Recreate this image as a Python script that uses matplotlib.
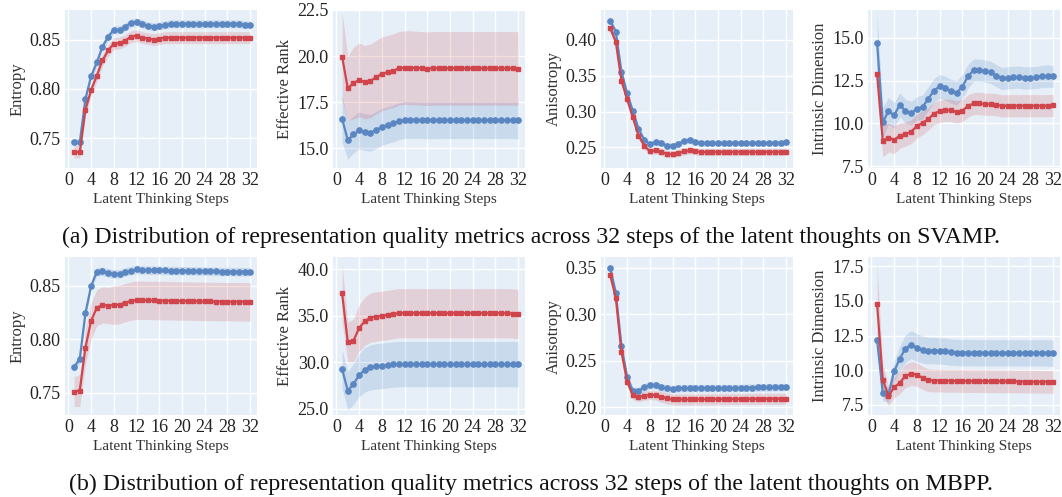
import numpy as np
import matplotlib
matplotlib.use("Agg")
import matplotlib.pyplot as plt

plt.rcParams['font.family'] = ['Liberation Serif', 'DejaVu Serif']

steps = list(range(1, 33))

# ---- (a) SVAMP ----
svamp_entropy_blue = [0.746, 0.746, 0.790, 0.813, 0.827, 0.843, 0.853, 0.860, 0.860, 0.863, 0.867, 0.868,
                      0.866, 0.864, 0.863, 0.864, 0.865, 0.866, 0.866, 0.866, 0.866, 0.866, 0.866, 0.866,
                      0.866, 0.866, 0.866, 0.866, 0.866, 0.866, 0.865, 0.865]
svamp_entropy_blue_sd = [0.004, 0.004, 0.004, 0.004, 0.004, 0.004, 0.004, 0.004, 0.004, 0.004, 0.004, 0.004,
                         0.004, 0.004, 0.004, 0.004, 0.004, 0.004, 0.004, 0.004, 0.004, 0.004, 0.004, 0.004,
                         0.004, 0.004, 0.004, 0.004, 0.004, 0.004, 0.004, 0.004]
svamp_entropy_red = [0.736, 0.736, 0.779, 0.799, 0.8135, 0.829, 0.839, 0.846, 0.8466, 0.849, 0.853, 0.854,
                     0.852, 0.851, 0.850, 0.851, 0.852, 0.852, 0.852, 0.852, 0.852, 0.852, 0.852, 0.852,
                     0.852, 0.852, 0.852, 0.852, 0.852, 0.852, 0.852, 0.852]
svamp_entropy_red_sd = [0.006, 0.006, 0.006, 0.006, 0.006, 0.006, 0.006, 0.006, 0.006, 0.006, 0.006, 0.006,
                        0.006, 0.006, 0.006, 0.006, 0.006, 0.006, 0.006, 0.006, 0.006, 0.006, 0.006, 0.006,
                        0.006, 0.006, 0.006, 0.006, 0.006, 0.006, 0.006, 0.006]

svamp_rank_blue = [16.60, 15.43, 15.74, 15.96, 15.87, 15.83, 15.98, 16.16, 16.25, 16.34, 16.46, 16.53,
                   16.53, 16.53, 16.52, 16.51, 16.52, 16.52, 16.52, 16.52, 16.52, 16.52, 16.52, 16.52,
                   16.52, 16.52, 16.52, 16.52, 16.52, 16.52, 16.52, 16.51]
svamp_rank_blue_sd = [1.25, 1.05, 1.00, 1.00, 1.00, 1.00, 1.00, 1.00, 1.00, 1.00, 1.00, 1.00,
                      1.00, 1.00, 1.00, 1.00, 1.00, 1.00, 1.00, 1.00, 1.00, 1.00, 1.00, 1.00,
                      1.00, 1.00, 1.00, 1.00, 1.00, 1.00, 1.00, 1.00]
svamp_rank_red = [19.97, 18.25, 18.53, 18.70, 18.58, 18.65, 18.85, 19.03, 19.12, 19.20, 19.33, 19.37,
                  19.37, 19.35, 19.33, 19.31, 19.33, 19.33, 19.33, 19.33, 19.33, 19.33, 19.33, 19.33,
                  19.33, 19.33, 19.33, 19.33, 19.33, 19.33, 19.33, 19.32]
svamp_rank_red_sd = [2.40, 1.75, 1.95, 2.00, 2.00, 2.00, 2.00, 2.00, 2.00, 2.00, 2.00, 2.00,
                     2.00, 2.00, 2.00, 2.00, 2.00, 2.00, 2.00, 2.00, 2.00, 2.00, 2.00, 2.00,
                     2.00, 2.00, 2.00, 2.00, 2.00, 2.00, 2.00, 2.00]

svamp_aniso_blue = [0.427, 0.4116, 0.3556, 0.3255, 0.3009, 0.276, 0.2606, 0.2546, 0.2574, 0.256, 0.2523, 0.2523,
                    0.2551, 0.2588, 0.2602, 0.2579, 0.256, 0.256, 0.256, 0.256, 0.256, 0.256, 0.256, 0.256,
                    0.256, 0.256, 0.256, 0.256, 0.256, 0.256, 0.256, 0.257]
svamp_aniso_blue_sd = [0.004, 0.004, 0.004, 0.004, 0.004, 0.004, 0.004, 0.004, 0.004, 0.004, 0.004, 0.004,
                       0.004, 0.004, 0.004, 0.004, 0.004, 0.004, 0.004, 0.004, 0.004, 0.004, 0.004, 0.004,
                       0.004, 0.004, 0.004, 0.004, 0.004, 0.004, 0.004, 0.004]
svamp_aniso_red = [0.4163, 0.3977, 0.343, 0.317, 0.292, 0.2665, 0.2526, 0.2444, 0.2458, 0.244, 0.2407, 0.2402,
                   0.242, 0.2444, 0.2458, 0.2444, 0.2435, 0.2435, 0.2435, 0.2435, 0.2435, 0.2435, 0.2435, 0.2435,
                   0.2435, 0.2435, 0.2435, 0.2435, 0.2435, 0.2435, 0.2435, 0.244]
svamp_aniso_red_sd = [0.005, 0.005, 0.005, 0.005, 0.005, 0.005, 0.005, 0.005, 0.005, 0.005, 0.005, 0.005,
                      0.005, 0.005, 0.005, 0.005, 0.005, 0.005, 0.005, 0.005, 0.005, 0.005, 0.005, 0.005,
                      0.005, 0.005, 0.005, 0.005, 0.005, 0.005, 0.005, 0.005]

svamp_dim_blue = [14.71, 10.06, 10.73, 10.48, 11.10, 10.71, 10.60, 10.87, 10.96, 11.44, 11.92, 12.17,
                  12.06, 11.88, 11.79, 12.15, 12.75, 13.12, 13.12, 13.06, 12.98, 12.79, 12.63, 12.67,
                  12.69, 12.71, 12.65, 12.67, 12.69, 12.75, 12.77, 12.75]
svamp_dim_blue_sd = [1.70, 0.90, 0.80, 0.75, 0.70, 0.70, 0.70, 0.70, 0.70, 0.70, 0.70, 0.70,
                     0.70, 0.70, 0.70, 0.70, 0.70, 0.65, 0.65, 0.65, 0.65, 0.65, 0.65, 0.65,
                     0.65, 0.65, 0.65, 0.65, 0.65, 0.65, 0.65, 0.65]
svamp_dim_red = [12.88, 9.00, 9.17, 9.04, 9.29, 9.38, 9.52, 9.85, 10.04, 10.25, 10.58, 10.71,
                 10.77, 10.77, 10.67, 10.75, 11.02, 11.17, 11.17, 11.13, 11.12, 11.10, 11.02, 11.04,
                 11.04, 11.04, 11.04, 11.04, 11.04, 11.04, 11.04, 11.06]
svamp_dim_red_sd = [1.20, 0.95, 0.85, 0.80, 0.75, 0.70, 0.70, 0.70, 0.70, 0.65, 0.65, 0.65,
                    0.65, 0.65, 0.65, 0.65, 0.65, 0.65, 0.65, 0.65, 0.65, 0.65, 0.65, 0.65,
                    0.65, 0.65, 0.65, 0.65, 0.65, 0.65, 0.65, 0.65]

# ---- (b) MBPP ----
mbpp_entropy_blue = [0.7737, 0.7816, 0.8245, 0.850, 0.8631, 0.8637, 0.8621, 0.8612, 0.8612, 0.8631, 0.8643, 0.8653,
                     0.8648, 0.8646, 0.8646, 0.8645, 0.8644, 0.8643, 0.8642, 0.8641, 0.8640, 0.8639, 0.8638, 0.8637,
                     0.8636, 0.8635, 0.8634, 0.8634, 0.8633, 0.8632, 0.8632, 0.8631]
mbpp_entropy_blue_sd = [0.004, 0.004, 0.004, 0.004, 0.004, 0.004, 0.004, 0.004, 0.004, 0.004, 0.004, 0.004,
                        0.004, 0.004, 0.004, 0.004, 0.004, 0.004, 0.004, 0.004, 0.004, 0.004, 0.004, 0.004,
                        0.004, 0.004, 0.004, 0.004, 0.004, 0.004, 0.004, 0.004]
mbpp_entropy_red = [0.7509, 0.7519, 0.7922, 0.8173, 0.8294, 0.8322, 0.8315, 0.8318, 0.8324, 0.8343, 0.8356, 0.8366,
                    0.8364, 0.8364, 0.8363, 0.8362, 0.8361, 0.8360, 0.8359, 0.8358, 0.8357, 0.8356, 0.8355, 0.8354,
                    0.8354, 0.8353, 0.8352, 0.8352, 0.8351, 0.8351, 0.8350, 0.8350]
mbpp_entropy_red_sd = [0.014, 0.015, 0.016, 0.017, 0.017, 0.017, 0.017, 0.018, 0.018, 0.018, 0.018, 0.018,
                       0.018, 0.018, 0.018, 0.018, 0.018, 0.018, 0.018, 0.018, 0.018, 0.018, 0.018, 0.018,
                       0.018, 0.018, 0.018, 0.018, 0.018, 0.018, 0.018, 0.018]

mbpp_rank_blue = [29.30, 26.96, 27.67, 28.64, 29.20, 29.46, 29.57, 29.64, 29.70, 29.78, 29.82, 29.82,
                  29.82, 29.82, 29.82, 29.82, 29.82, 29.82, 29.82, 29.82, 29.82, 29.82, 29.82, 29.82,
                  29.82, 29.82, 29.82, 29.82, 29.82, 29.82, 29.82, 29.82]
mbpp_rank_blue_sd = [2.10, 2.05, 2.20, 2.30, 2.40, 2.44, 2.44, 2.44, 2.44, 2.44, 2.44, 2.44,
                     2.44, 2.44, 2.44, 2.44, 2.44, 2.44, 2.44, 2.44, 2.44, 2.44, 2.44, 2.44,
                     2.44, 2.44, 2.44, 2.44, 2.44, 2.44, 2.44, 2.44]
mbpp_rank_red = [37.45, 32.20, 32.33, 33.70, 34.43, 34.82, 34.93, 35.00, 35.10, 35.20, 35.29, 35.29,
                 35.29, 35.29, 35.29, 35.29, 35.29, 35.29, 35.29, 35.29, 35.29, 35.29, 35.29, 35.29,
                 35.29, 35.29, 35.29, 35.29, 35.29, 35.29, 35.25, 35.20]
mbpp_rank_red_sd = [3.10, 2.15, 2.30, 2.50, 2.60, 2.65, 2.65, 2.65, 2.65, 2.65, 2.65, 2.65,
                    2.65, 2.65, 2.65, 2.65, 2.65, 2.65, 2.65, 2.65, 2.65, 2.65, 2.65, 2.65,
                    2.65, 2.65, 2.65, 2.65, 2.65, 2.65, 2.65, 2.65]

mbpp_aniso_blue = [0.3504, 0.3235, 0.266, 0.2327, 0.218, 0.2177, 0.2215, 0.2236, 0.224, 0.2215, 0.2204, 0.2197,
                   0.2204, 0.2208, 0.2208, 0.2208, 0.2208, 0.2208, 0.2208, 0.2208, 0.2208, 0.2208, 0.2208, 0.2210,
                   0.2212, 0.2212, 0.2214, 0.2214, 0.2216, 0.2216, 0.2218, 0.2220]
mbpp_aniso_blue_sd = [0.004, 0.004, 0.004, 0.004, 0.004, 0.004, 0.004, 0.004, 0.004, 0.004, 0.004, 0.004,
                      0.004, 0.004, 0.004, 0.004, 0.004, 0.004, 0.004, 0.004, 0.004, 0.004, 0.004, 0.004,
                      0.004, 0.004, 0.004, 0.004, 0.004, 0.004, 0.004, 0.004]
mbpp_aniso_red = [0.3428, 0.3181, 0.2598, 0.2276, 0.2133, 0.2111, 0.2125, 0.2133, 0.2129, 0.2115, 0.2097, 0.2086,
                  0.2086, 0.2086, 0.2086, 0.2086, 0.2087, 0.2087, 0.2088, 0.2088, 0.2089, 0.2089, 0.2090, 0.2090,
                  0.2091, 0.2091, 0.2092, 0.2092, 0.2093, 0.2093, 0.2093, 0.2093]
mbpp_aniso_red_sd = [0.005, 0.005, 0.005, 0.005, 0.005, 0.005, 0.005, 0.005, 0.005, 0.006, 0.006, 0.006,
                     0.006, 0.006, 0.006, 0.006, 0.006, 0.006, 0.006, 0.006, 0.006, 0.006, 0.006, 0.006,
                     0.006, 0.006, 0.006, 0.006, 0.006, 0.006, 0.006, 0.006]

mbpp_dim_blue = [12.19, 8.37, 8.25, 9.93, 10.84, 11.56, 11.85, 11.63, 11.49, 11.42, 11.42, 11.39,
                 11.37, 11.30, 11.27, 11.27, 11.27, 11.26, 11.26, 11.26, 11.25, 11.25, 11.25, 11.25,
                 11.25, 11.25, 11.25, 11.25, 11.25, 11.25, 11.24, 11.23]
mbpp_dim_blue_sd = [0.75, 0.55, 0.55, 0.75, 0.90, 1.00, 1.00, 1.00, 0.98, 0.96, 0.95, 0.95,
                    0.95, 0.95, 0.95, 0.95, 0.95, 0.95, 0.95, 0.95, 0.95, 0.95, 0.95, 0.95,
                    0.95, 0.95, 0.95, 0.95, 0.95, 0.95, 0.95, 0.95]
mbpp_dim_red = [14.77, 9.31, 8.16, 8.76, 9.11, 9.59, 9.76, 9.69, 9.45, 9.28, 9.26, 9.26,
                9.24, 9.24, 9.23, 9.23, 9.22, 9.22, 9.22, 9.21, 9.21, 9.21, 9.20, 9.20,
                9.20, 9.19, 9.19, 9.18, 9.18, 9.17, 9.17, 9.16]
mbpp_dim_red_sd = [2.90, 1.10, 0.70, 0.75, 0.80, 0.85, 0.85, 0.85, 0.83, 0.82, 0.82, 0.82,
                   0.82, 0.82, 0.82, 0.82, 0.82, 0.82, 0.82, 0.82, 0.82, 0.82, 0.82, 0.82,
                   0.82, 0.82, 0.82, 0.82, 0.82, 0.82, 0.82, 0.82]

ylabels = ['Entropy', 'Effective Rank', 'Anisotropy', 'Intrinsic Dimension']

rows = [
    [(svamp_entropy_blue, svamp_entropy_blue_sd, svamp_entropy_red, svamp_entropy_red_sd,
      [0.75, 0.80, 0.85], (0.720, 0.880), '{:.2f}'),
     (svamp_rank_blue, svamp_rank_blue_sd, svamp_rank_red, svamp_rank_red_sd,
      [15.0, 17.5, 20.0, 22.5], (13.92, 22.5), '{:.1f}'),
     (svamp_aniso_blue, svamp_aniso_blue_sd, svamp_aniso_red, svamp_aniso_red_sd,
      [0.25, 0.30, 0.35, 0.40], (0.2212, 0.4418), '{:.2f}'),
     (svamp_dim_blue, svamp_dim_blue_sd, svamp_dim_red, svamp_dim_red_sd,
      [7.5, 10.0, 12.5, 15.0], (7.4, 16.63), '{:.1f}')],
    [(mbpp_entropy_blue, mbpp_entropy_blue_sd, mbpp_entropy_red, mbpp_entropy_red_sd,
      [0.75, 0.80, 0.85], (0.729, 0.877), '{:.2f}'),
     (mbpp_rank_blue, mbpp_rank_blue_sd, mbpp_rank_red, mbpp_rank_red_sd,
      [25.0, 30.0, 35.0, 40.0], (24.35, 41.33), '{:.1f}'),
     (mbpp_aniso_blue, mbpp_aniso_blue_sd, mbpp_aniso_red, mbpp_aniso_red_sd,
      [0.20, 0.25, 0.30, 0.35], (0.1918, 0.3618), '{:.2f}'),
     (mbpp_dim_blue, mbpp_dim_blue_sd, mbpp_dim_red, mbpp_dim_red_sd,
      [7.5, 10.0, 12.5, 15.0, 17.5], (6.78, 18.15), '{:.1f}')],
]

captions = ['(a) Distribution of representation quality metrics across 32 steps of the latent thoughts on SVAMP.',
            '(b) Distribution of representation quality metrics across 32 steps of the latent thoughts on MBPP.']

blue = '#5a87c2'
red = '#d0454c'
bg = '#e6eff8'

W, H = 1062, 497
fig = plt.figure(figsize=(W / 100, H / 100), dpi=100)

lefts = [65, 333, 601, 868]
bottoms = [168, 415]
aw, ah = 192, 158

x = np.array(steps)
for r, row in enumerate(rows):
    for c, (b, bsd, rd, rsd, yt, ylim, fmt) in enumerate(row):
        ax = fig.add_axes([lefts[c] / W, 1 - bottoms[r] / H, aw / W, ah / H])
        ax.set_facecolor(bg)
        for s in ax.spines.values():
            s.set_visible(False)
        ax.grid(True, color='white', linewidth=1.0)
        ax.set_axisbelow(True)
        b = np.array(b); bsd = np.array(bsd)
        rd = np.array(rd); rsd = np.array(rsd)
        ax.fill_between(x, b - bsd, b + bsd, color=blue, alpha=0.2, linewidth=0)
        ax.fill_between(x, rd - rsd, rd + rsd, color=red, alpha=0.18, linewidth=0)
        ax.plot(x, b, '-o', color=blue, linewidth=1.6, markersize=3.8)
        ax.plot(x, rd, '-s', color=red, linewidth=1.6, markersize=3.5)
        ax.set_xticks(range(0, 33, 4))
        ax.set_yticks(yt)
        ax.set_yticklabels([fmt.format(v) for v in yt])
        ax.set_ylim(*ylim)
        ax.set_xlim(-0.6, 33.2)
        ax.tick_params(length=0, labelsize=13, pad=3, colors='#222222')
        ax.set_xlabel('Latent Thinking Steps', fontsize=11, color='#333333', labelpad=3)
        ax.set_ylabel(ylabels[c], fontsize=12, color='#333333', labelpad=3)

fig.text(531 / W, 1 - 237 / H, captions[0], ha='center', va='center', fontsize=17.2, color='#111111')
fig.text(531 / W, 1 - 484 / H, captions[1], ha='center', va='center', fontsize=17.2, color='#111111')

fig.savefig('out.png', dpi=100)
